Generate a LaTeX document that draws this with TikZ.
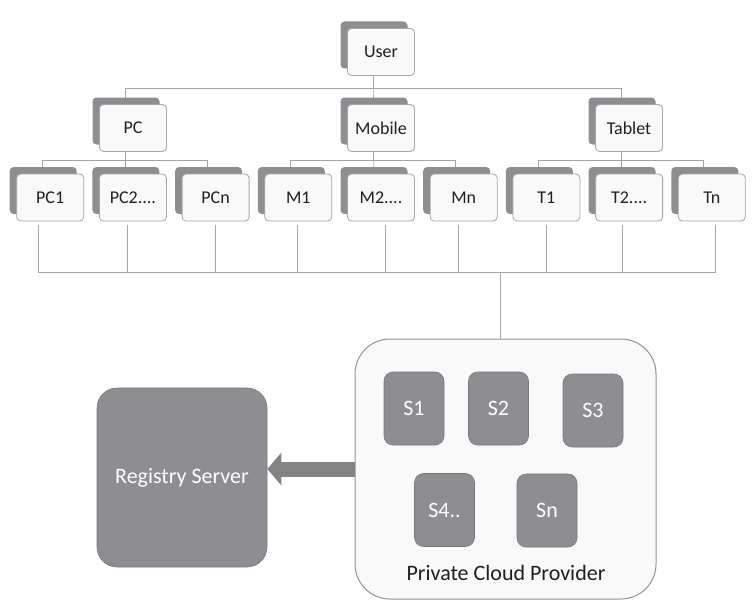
\documentclass[tikz,border=0pt]{standalone}
\usepackage{fontspec}
\setmainfont{Carlito}
\usetikzlibrary{arrows.meta, positioning, shadows, backgrounds}
\definecolor{boxgray}{RGB}{142,142,146}
\definecolor{linegray}{RGB}{165,165,165}
\definecolor{paper}{RGB}{249,249,249}

\begin{document}
\begin{tikzpicture}[x=1pt,y=-1pt,on grid,
        box/.style={rectangle,rounded corners=4pt,draw=linegray,fill=paper,line width=0.8pt,
          minimum width=67pt,minimum height=47pt,inner sep=0pt,
          font=\fontsize{18}{20}\selectfont,text=black!88,
          copy shadow={shadow xshift=-7pt,shadow yshift=7pt,fill=boxgray,draw=none}},
        server/.style={rectangle,rounded corners=9pt,draw=boxgray!85!black,fill=boxgray,
          line width=0.6pt,minimum width=60pt,minimum height=73pt,inner sep=0pt,
          text=white,font=\fontsize{22}{24}\selectfont},
        link/.style={draw=linegray,line width=0.8pt},
        bigarrow/.style={draw=boxgray!92!black,line width=15pt,-{Triangle[length=14pt,width=32pt]}}]

        \useasboundingbox (0,0) rectangle (755,610);

        % device tree
        \node[box] (user) at (381,52) {User};
        \node[box] (mobile) [below=76pt of user] {Mobile};
        \node[box] (pc) [left=248pt of mobile] {PC};
        \node[box] (tablet) [right=248pt of mobile] {Tablet};

        \node[box] (m2) [below=69.5pt of mobile] {M2....};
        \node[box] (m1) [left=82.7pt of m2] {M1};
        \node[box] (pcn) [left=82.7pt of m1] {PCn};
        \node[box] (pc2) [left=82.7pt of pcn] {PC2....};
        \node[box] (pc1) [left=82.7pt of pc2] {PC1};
        \node[box] (mn) [right=82.7pt of m2] {Mn};
        \node[box] (t1) [right=82.7pt of mn] {T1};
        \node[box] (t2) [right=82.7pt of t1] {T2....};
        \node[box] (tn) [right=82.7pt of t2] {Tn};

        % cloud and registry
        \node[rectangle,rounded corners=35pt,draw=gray!85,fill=paper,line width=1pt,
          minimum width=301pt,minimum height=260pt] (cloud) at (505.5,469) {};
        \node[server] (s1) at (414,408.5) {S1};
        \node[server] (s2) at (498.5,408.5) {S2};
        \node[server] (s3) at (593,410.5) {S3};
        \node[server] (s4) at (444.5,510) {S4..};
        \node[server] (sn) at (547,510.5) {Sn};
        \node[font=\fontsize{22}{24}\selectfont,text=black!88] (cloudlabel) at (506,573) {Private Cloud Provider};

        \node[server,rounded corners=20pt,minimum width=170pt,minimum height=179pt] (registry) at (182,477.5) {Registry Server};

        \draw[bigarrow] (cloud.west) -- (registry.east |- cloud.west);

        \begin{scope}[on background layer]
          \foreach \kid in {pc,mobile,tablet}
            \draw[link] ([xshift=-8pt]user.south) -- ++(0,12) -| ([xshift=-8pt]\kid.north);
          \foreach \up/\kid in {pc/pc1,pc/pc2,pc/pcn,mobile/m1,mobile/m2,mobile/mn,tablet/t1,tablet/t2,tablet/tn}
            \draw[link] ([xshift=-8pt]\up.south) -- ++(0,8) -| ([xshift=-8pt]\kid.north);

          \coordinate (bus) at (500,272);
          \foreach \kid/\dx in {pc1/-12,pc2/-6,pcn/0,m1/-1,m2/4,mn/-5,t1/0,t2/-7,tn/4}
            \draw[link] ([xshift=\dx pt,yshift=-4pt]\kid.south) -- ([xshift=\dx pt]\kid.south |- bus);
          \draw[link] ([xshift=-12pt]pc1.south |- bus) -- ([xshift=4pt]tn.south |- bus);
          \draw[link] (bus) -- (bus |- cloud.north);
        \end{scope}
\end{tikzpicture}
\end{document}
